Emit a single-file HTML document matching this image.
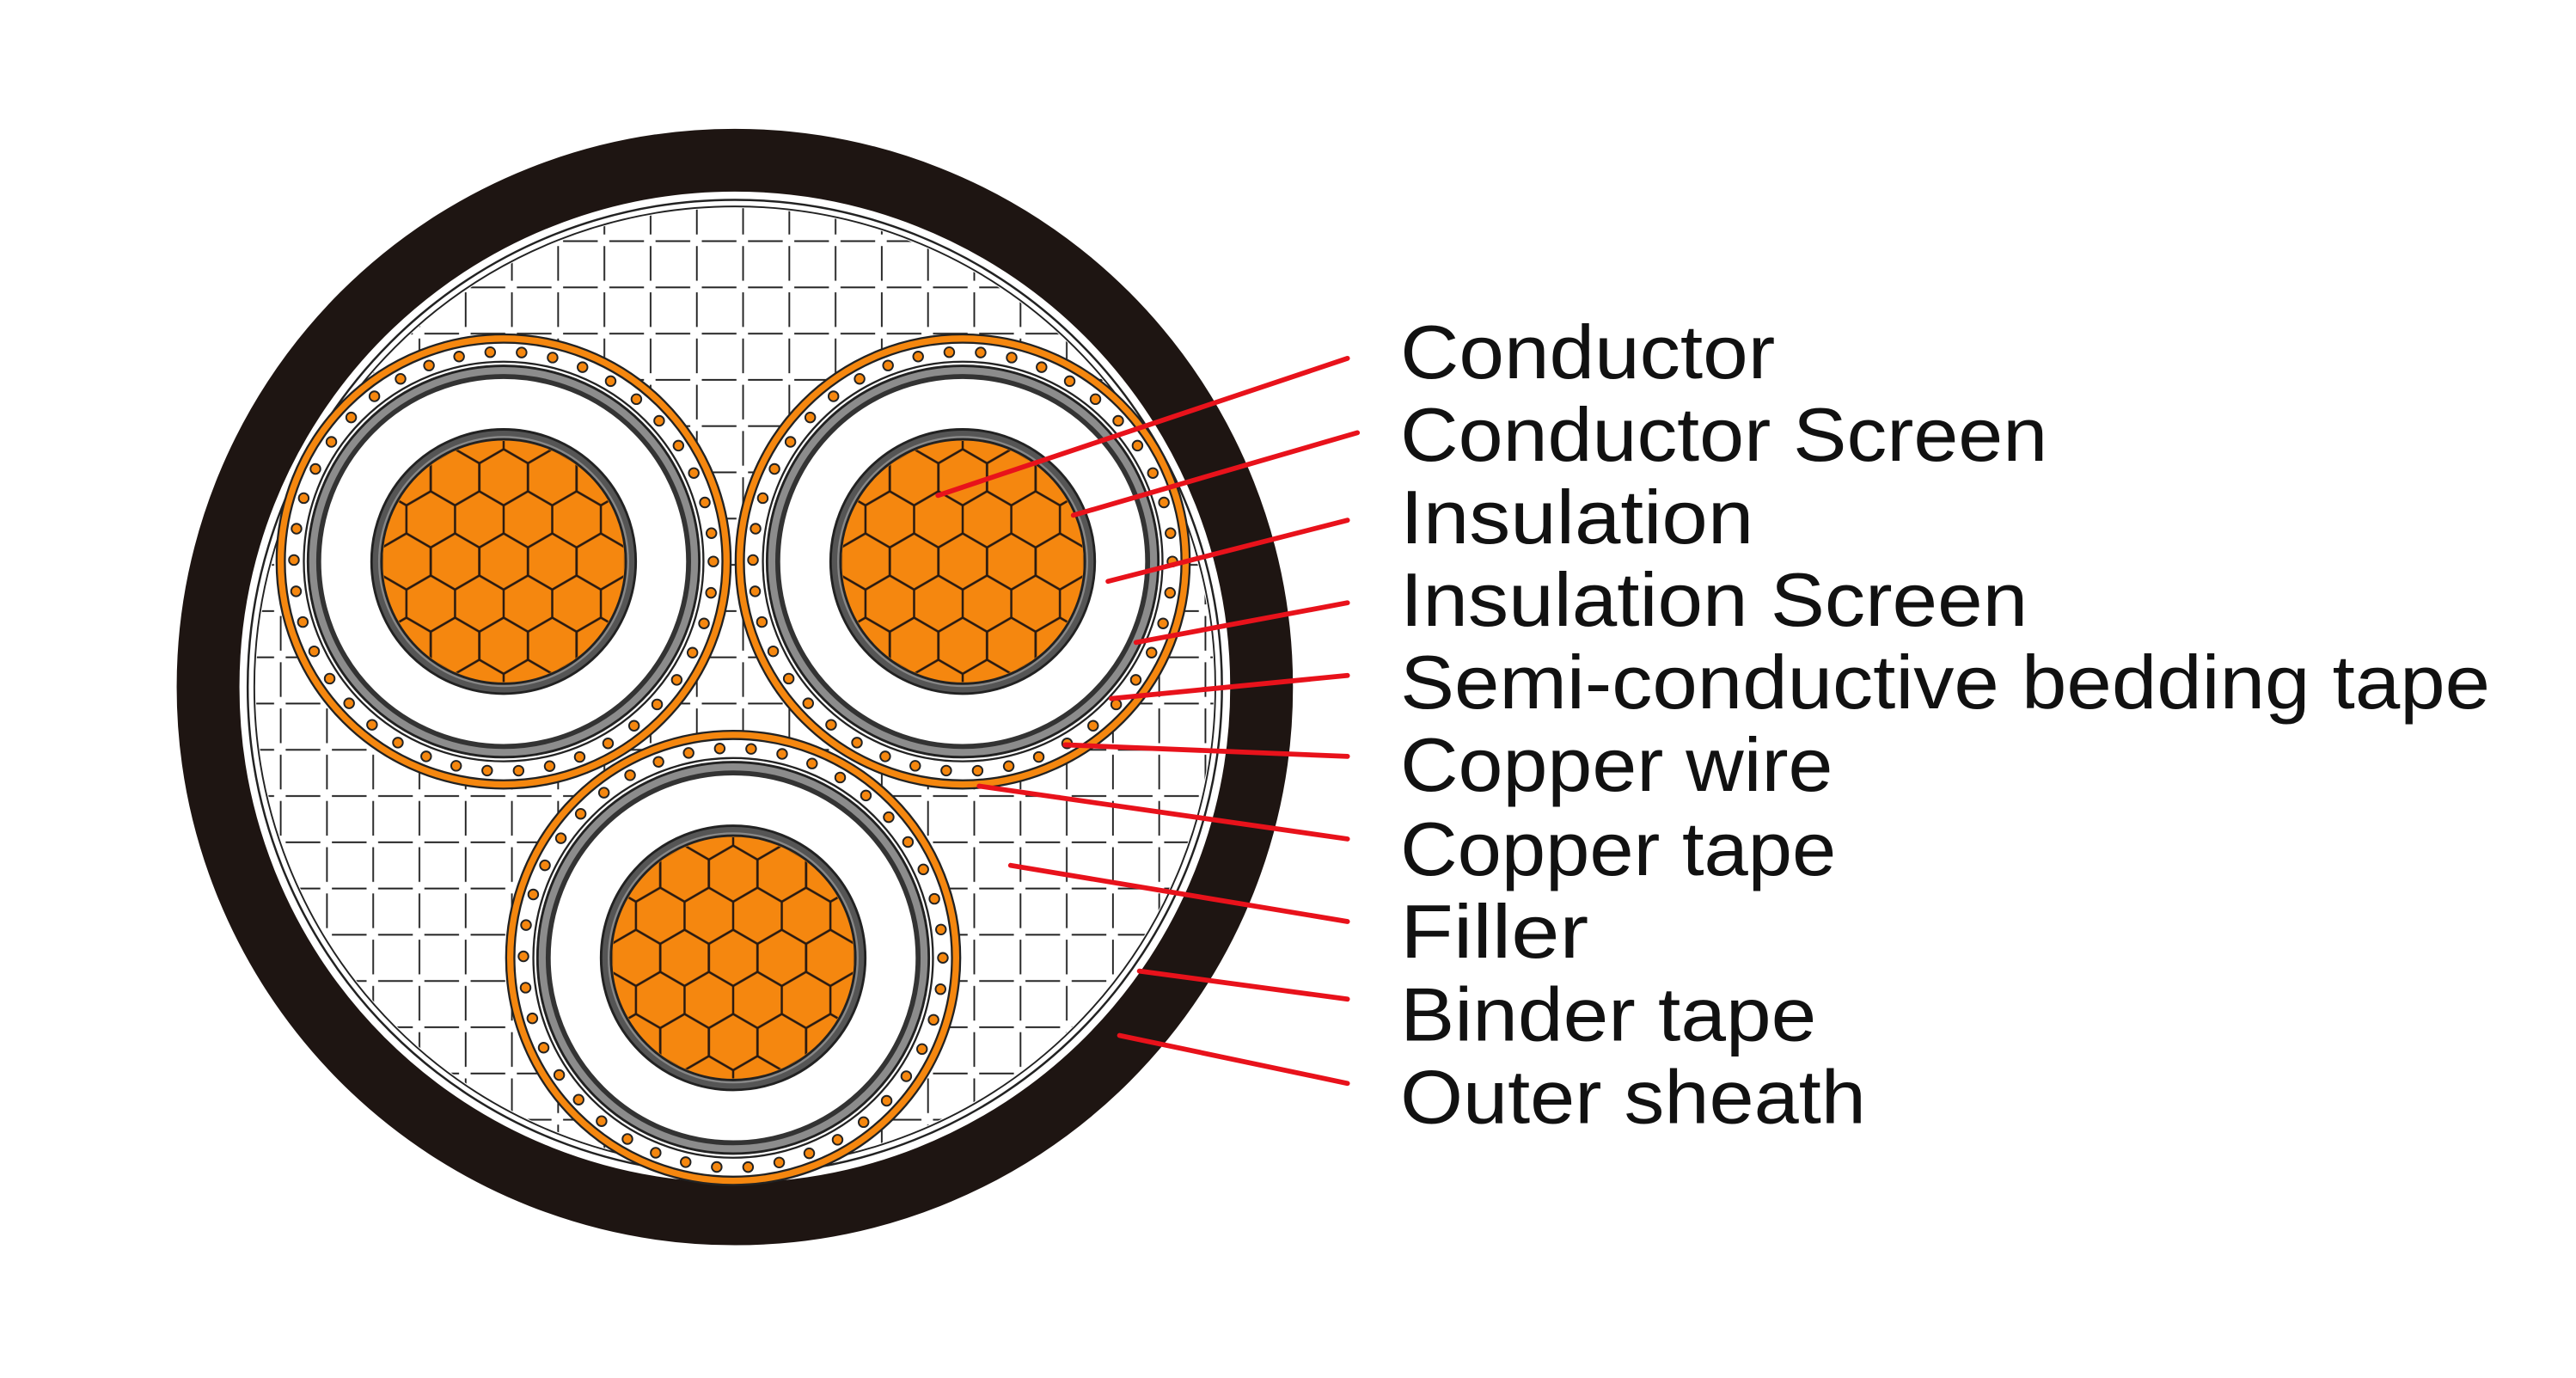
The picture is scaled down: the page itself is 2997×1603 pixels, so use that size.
<!DOCTYPE html>
<html><head><meta charset="utf-8"><style>
html,body{margin:0;padding:0;background:#fff;}
svg{display:block;}
</style></head><body>
<svg width="2997" height="1603" viewBox="0 0 1560 834.4" preserveAspectRatio="none" xmlns="http://www.w3.org/2000/svg">
<defs>
<pattern id="grid" width="28" height="28" patternUnits="userSpaceOnUse" x="0" y="4">
<path d="M5 2 H26 M2 5 V26" stroke="#222" stroke-width="1" fill="none"/>
</pattern>
<pattern id="hex" width="29.44" height="51" patternUnits="userSpaceOnUse">
<g fill="none" stroke="#2a1a10" stroke-width="1.3">
<path id="h" d="M0 -17 L14.72 -8.5 L14.72 8.5 L0 17 L-14.72 8.5 L-14.72 -8.5 Z"/>
<use href="#h" x="29.44"/>
<use href="#h" x="14.72" y="25.5"/>
<use href="#h" y="51"/>
<use href="#h" x="29.44" y="51"/>
</g>
</pattern>
<clipPath id="fc"><circle cx="445" cy="416" r="290"/></clipPath>
<g id="core">
<circle r="137" fill="#fff"/>
<circle r="135" fill="none" stroke="#f5870f" stroke-width="4.5"/>
<circle r="137.5" fill="none" stroke="#222" stroke-width="1.2"/>
<circle r="132.5" fill="none" stroke="#222" stroke-width="1.2"/>
<circle r="127" fill="none" stroke="#222" stroke-width="7" stroke-linecap="round" stroke-dasharray="0 19.04"/>
<circle r="127" fill="none" stroke="#f5870f" stroke-width="5" stroke-linecap="round" stroke-dasharray="0 19.04"/>
<circle r="121" fill="none" stroke="#222" stroke-width="1.2"/>
<circle r="115.5" fill="none" stroke="#8c8c8c" stroke-width="5"/>
<circle r="118.5" fill="none" stroke="#222" stroke-width="1.5"/>
<circle r="112" fill="none" stroke="#333" stroke-width="3"/>
<circle r="80" fill="#555" stroke="#222" stroke-width="1.5"/>
<circle r="76" fill="#888"/>
<circle r="74" fill="#f5870f" stroke="#222" stroke-width="1.5"/>
<circle r="73" fill="url(#hex)"/>
</g>
</defs>
<circle cx="445" cy="416" r="319" fill="none" stroke="#1e1512" stroke-width="38"/>
<circle cx="445" cy="416" r="295" fill="none" stroke="#222" stroke-width="1.3"/>
<circle cx="445" cy="416" r="291" fill="none" stroke="#222" stroke-width="1"/>
<rect x="150" y="120" width="600" height="600" fill="url(#grid)" clip-path="url(#fc)"/>
<g transform="translate(305,340)"><use href="#core"/></g>
<g transform="translate(583,340)"><use href="#core"/></g>
<g transform="translate(444,580)"><use href="#core"/></g>
<g stroke="#e8121b" stroke-width="3" stroke-linecap="round">
<line x1="568" y1="300" x2="816" y2="217"/>
<line x1="650" y1="312" x2="822" y2="262"/>
<line x1="671" y1="352" x2="816" y2="315"/>
<line x1="688" y1="389" x2="816" y2="365"/>
<line x1="673" y1="423" x2="816" y2="409"/>
<line x1="645" y1="451" x2="816" y2="458"/>
<line x1="593" y1="476" x2="816" y2="508"/>
<line x1="612" y1="524" x2="816" y2="558"/>
<line x1="690" y1="588" x2="816" y2="605"/>
<line x1="678" y1="627" x2="816" y2="656"/>
</g>
<g font-family="Liberation Sans, sans-serif" font-size="46" fill="#111">
<text x="848" y="229" textLength="227" lengthAdjust="spacingAndGlyphs">Conductor</text>
<text x="848" y="279" textLength="392" lengthAdjust="spacingAndGlyphs">Conductor Screen</text>
<text x="848" y="329" textLength="214" lengthAdjust="spacingAndGlyphs">Insulation</text>
<text x="848" y="379" textLength="380" lengthAdjust="spacingAndGlyphs">Insulation Screen</text>
<text x="848" y="429" textLength="660" lengthAdjust="spacingAndGlyphs">Semi-conductive bedding tape</text>
<text x="848" y="479" textLength="262" lengthAdjust="spacingAndGlyphs">Copper wire</text>
<text x="848" y="530" textLength="264" lengthAdjust="spacingAndGlyphs">Copper tape</text>
<text x="848" y="580" textLength="114" lengthAdjust="spacingAndGlyphs">Filler</text>
<text x="848" y="630" textLength="252" lengthAdjust="spacingAndGlyphs">Binder tape</text>
<text x="848" y="680" textLength="282" lengthAdjust="spacingAndGlyphs">Outer sheath</text>
</g>
</svg>
</body></html>
